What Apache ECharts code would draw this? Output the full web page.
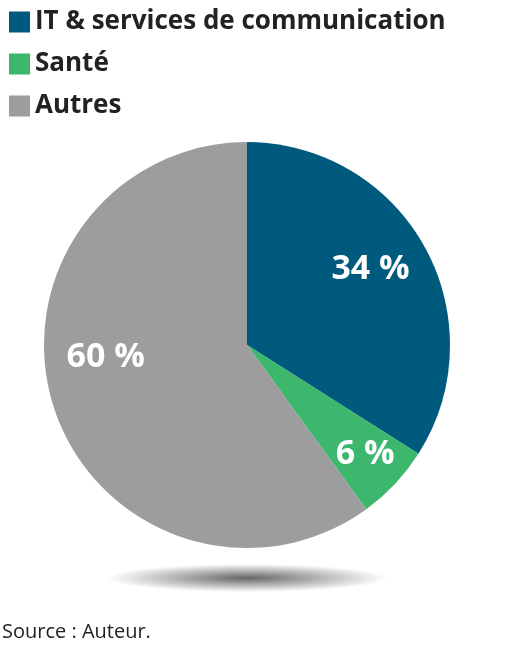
<!DOCTYPE html>
<html><head><meta charset="utf-8">
<script src="https://cdn.jsdelivr.net/npm/echarts@6/dist/echarts.min.js"></script>
<style>html,body{margin:0;padding:0;background:#fff}#c{width:518px;height:651px}</style>
</head><body><div id="c"></div>
<script>
var categories = ['IT & services de communication', 'Santé', 'Autres'];
var values = [34, 6, 60];
var colors = ['#005a7d', '#3db76e', '#9d9d9d'];
var offsets = [[32, -25], [42, 38], [-42, -20]];

var chart = echarts.init(document.getElementById('c'));
chart.setOption({
    animation: false,
    legend: {
        orient: 'vertical', left: 4, top: 4, itemGap: 16,
        itemWidth: 21, itemHeight: 21, icon: 'rect',
        textStyle: {fontFamily: 'Open Sans', fontWeight: 'bold', fontSize: 26, color: '#222'},
        data: categories
    },
    graphic: [{
        type: 'circle', z: 0,
        x: 247, y: 578, scaleY: 0.1,
        shape: {cx: 0, cy: 0, r: 140},
        style: {fill: {type: 'radial', x: 0.5, y: 0.5, r: 0.5,
            colorStops: [{offset: 0, color: 'rgba(0,0,0,0.6)'}, {offset: 1, color: 'rgba(0,0,0,0)'}]}}
    }, {
        type: 'text', left: 2, top: 622,
        style: {text: 'Source : Auteur.', fontFamily: 'Liberation Sans Narrow, Open Sans', fontSize: 20, fill: '#222'}
    }],
    series: [{
        type: 'pie', center: [247, 345], radius: 203, startAngle: 90, clockwise: true,
        color: colors,
        label: {position: 'inside', color: '#fff', fontFamily: 'Open Sans', fontWeight: 'bold', fontSize: 34,
            formatter: function (p) { return p.value + ' %'; }},
        labelLine: {show: false},
        data: categories.map(function (n, i) { return {name: n, value: values[i], label: {offset: offsets[i]}}; })
    }]
});
</script></body></html>
